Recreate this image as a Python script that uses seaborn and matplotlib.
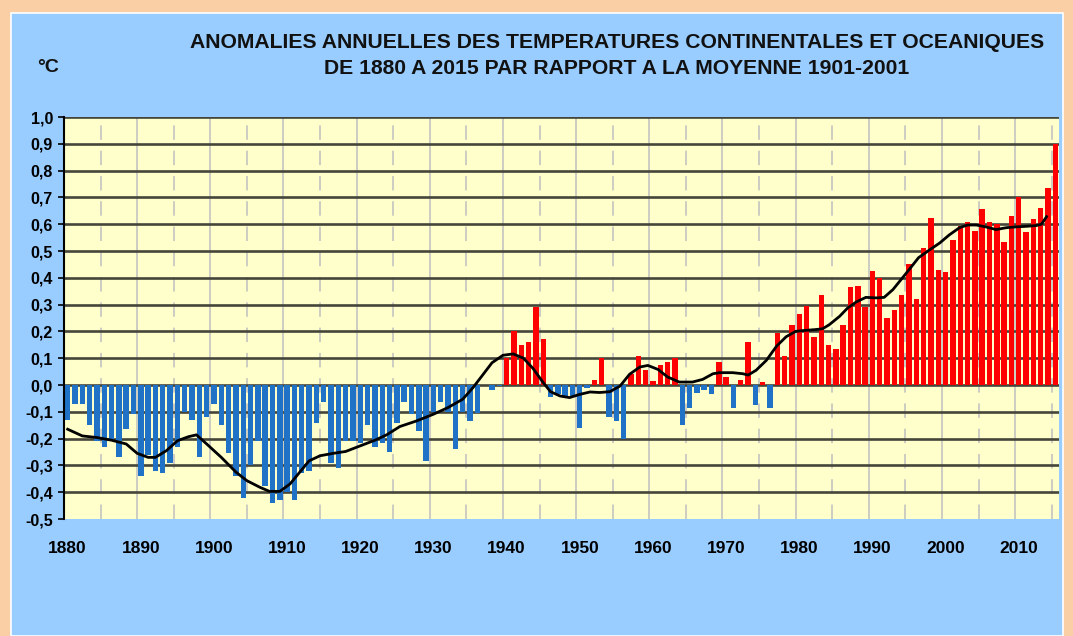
import matplotlib
matplotlib.use("Agg")
import matplotlib.pyplot as plt
import seaborn as sns
import pandas as pd
from matplotlib.patches import Rectangle

# ---------------- data ----------------
years = list(range(1880, 2016))
anomalies = [
    -0.13, -0.07, -0.07, -0.15, -0.21, -0.23, -0.21, -0.27, -0.165, -0.11,   # 1880s
    -0.34, -0.26, -0.32, -0.33, -0.29, -0.23, -0.10, -0.13, -0.27, -0.12,    # 1890s
    -0.07, -0.15, -0.255, -0.34, -0.42, -0.30, -0.21, -0.375, -0.44, -0.43,  # 1900s
    -0.40, -0.43, -0.33, -0.32, -0.14, -0.065, -0.29, -0.31, -0.21, -0.21,   # 1910s
    -0.215, -0.15, -0.23, -0.215, -0.25, -0.14, -0.065, -0.11, -0.17, -0.285,  # 1920s
    -0.10, -0.065, -0.10, -0.24, -0.10, -0.135, -0.105, 0.0, -0.02, -0.005,  # 1930s
    0.10, 0.20, 0.15, 0.16, 0.29, 0.17, -0.045, -0.035, -0.04, -0.04,        # 1940s
    -0.16, -0.01, 0.02, 0.10, -0.12, -0.135, -0.20, 0.04, 0.11, 0.055,       # 1950s
    0.015, 0.075, 0.085, 0.10, -0.15, -0.085, -0.03, -0.02, -0.035, 0.085,   # 1960s
    0.03, -0.085, 0.02, 0.16, -0.075, 0.01, -0.085, 0.195, 0.11, 0.225,      # 1970s
    0.265, 0.295, 0.18, 0.335, 0.15, 0.135, 0.225, 0.365, 0.37, 0.29,        # 1980s
    0.425, 0.40, 0.25, 0.28, 0.335, 0.45, 0.32, 0.51, 0.625, 0.43,           # 1990s
    0.42, 0.54, 0.595, 0.61, 0.575, 0.655, 0.61, 0.60, 0.535, 0.63,          # 2000s
    0.70, 0.57, 0.62, 0.66, 0.735, 0.90,                                     # 2010s
]

# smoothed curve (year, value)
curve_years = [1880, 1882, 1884, 1886, 1888, 1889.5, 1891, 1892, 1893.5, 1895,
               1896.5, 1897.6, 1899, 1901, 1903, 1904.5, 1906.3, 1907.6, 1909, 1910.4,
               1911.7, 1913, 1914.5, 1916.3, 1918, 1920, 1922, 1923.6, 1925.4, 1927.7,
               1930, 1932, 1934, 1935.4, 1936.8, 1938, 1939.5, 1940.9, 1942.3, 1943.6,
               1945, 1946, 1947.3, 1948.6, 1950, 1951.4, 1952.7, 1954.1, 1955.5, 1956.8,
               1958.2, 1959.3, 1960.7, 1962, 1963.6, 1965.4, 1966.8, 1968.2, 1969.1, 1970.9,
               1972.3, 1973, 1974.1, 1975.5, 1976.9, 1978.2, 1979.5, 1980.5, 1982.3, 1983.2,
               1984.1, 1985.5, 1986.6, 1987.8, 1989.1, 1990.5, 1991.6, 1992.8, 1993.9, 1995,
               1996.3, 1997.8, 1999.2, 2000.5, 2001.9, 2003, 2004.2, 2005.5, 2006.9, 2008.3,
               2009.6, 2011, 2012.4, 2013.1, 2013.8]
curve_values = [-0.165, -0.19, -0.196, -0.206, -0.22, -0.255, -0.27, -0.27, -0.245, -0.208,
                -0.193, -0.186, -0.22, -0.27, -0.325, -0.357, -0.382, -0.397, -0.397, -0.369,
                -0.326, -0.283, -0.264, -0.255, -0.248, -0.227, -0.206, -0.186, -0.155, -0.134,
                -0.109, -0.084, -0.053, -0.01, 0.04, 0.083, 0.111, 0.116, 0.10, 0.062,
                0.009, -0.025, -0.041, -0.047, -0.035, -0.026, -0.028, -0.025, -0.004, 0.04,
                0.067, 0.073, 0.058, 0.03, 0.011, 0.011, 0.021, 0.042, 0.046, 0.046,
                0.042, 0.037, 0.055, 0.092, 0.145, 0.18, 0.20, 0.203, 0.207, 0.21,
                0.225, 0.256, 0.287, 0.31, 0.327, 0.325, 0.327, 0.356, 0.393, 0.43,
                0.475, 0.504, 0.53, 0.56, 0.587, 0.597, 0.597, 0.59, 0.58, 0.587,
                0.59, 0.592, 0.595, 0.60, 0.628]

y_ticks = [-0.5, -0.4, -0.3, -0.2, -0.1, 0.0, 0.1, 0.2, 0.3, 0.4, 0.5, 0.6, 0.7, 0.8, 0.9, 1.0]
x_label_years = list(range(1880, 2011, 10))

title_line1 = "ANOMALIES ANNUELLES DES TEMPERATURES CONTINENTALES ET OCEANIQUES"
title_line2 = "DE 1880 A 2015 PAR RAPPORT A LA MOYENNE 1901-2001"
unit_label = "°C"

# ---------------- styling ----------------
FONT = ["Liberation Sans", "DejaVu Sans"]
ORANGE = "#FBCFA6"
PANEL = "#99CCFF"
PLOT_BG = "#FFFFCC"
BLUE = "#1F72C6"
RED = "#FF0000"

W, H = 1073, 636
fig = plt.figure(figsize=(W / 100, H / 100), dpi=100)
fig.patch.set_facecolor(ORANGE)
fig.patches.append(Rectangle((11 / W, 0), (1063 - 11) / W, (H - 13) / H,
                             transform=fig.transFigure, facecolor=PANEL,
                             edgecolor="white", linewidth=1.2, zorder=-5))

ax = fig.add_axes([64 / W, 1 - 519 / H, (1059 - 64) / W, (519 - 117) / H])
ax.set_zorder(2)
ax.set_facecolor(PLOT_BG)

df = pd.DataFrame({"year": years, "anomaly": anomalies})
df["sign"] = ["pos" if v > 0 else "neg" for v in df["anomaly"]]

# grid (behind bars)
for v in y_ticks:
    if v > -0.5:
        ax.axhline(v, color="#45453a", linewidth=1.9, zorder=0.5)
n = len(years)
for yr in range(1885, 2016, 5):
    pos = yr - years[0] - 0.5
    if (yr % 10) == 0:
        ax.axvline(pos, color="#c8c8c0", linewidth=1.3, zorder=0.4)
    else:
        ax.axvline(pos, color="#c8c8c0", linewidth=1.3, linestyle=(0, (8, 6)), zorder=0.4)

sns.barplot(data=df, x="year", y="anomaly", hue="sign",
            palette={"pos": RED, "neg": BLUE}, dodge=False, width=0.74,
            saturation=1, legend=False, ax=ax, zorder=2)

curve_pos = [y - years[0] for y in curve_years]
sns.lineplot(x=curve_pos, y=curve_values, color="black", linewidth=2.0, ax=ax,
             zorder=3, sort=False)

ax.set_xlim(-0.5, n - 0.5)
ax.set_ylim(-0.5, 1.0)
ax.set_yticks(y_ticks)
ax.set_yticklabels([f"{v:.1f}".replace(".", ",") for v in y_ticks],
                   fontfamily=FONT, fontweight="bold", fontsize=11.5)
ax.set_xticks([y - years[0] for y in x_label_years])
ax.set_xticklabels([str(y) for y in x_label_years], fontfamily=FONT,
                   fontweight="bold", fontsize=12.5)
ax.tick_params(axis="x", length=0, pad=16)
ax.tick_params(axis="y", length=4, width=1.2, color="black", pad=4, direction="out")
ax.set_xlabel("")
ax.set_ylabel("")
for s in ["top", "right", "bottom"]:
    ax.spines[s].set_visible(False)
ax.spines["left"].set_color("black")
ax.spines["left"].set_linewidth(1.5)

fig.text(617 / W, 1 - 42 / H, title_line1, ha="center", va="center",
         fontfamily=FONT, fontweight="bold", fontsize=15.2, color="#111111")
fig.text(617 / W, 1 - 68 / H, title_line2, ha="center", va="center",
         fontfamily=FONT, fontweight="bold", fontsize=15.2, color="#111111")
fig.text(48 / W, 1 - 68 / H, unit_label, ha="center", va="center",
         fontfamily=FONT, fontweight="bold", fontsize=14, color="#111111")

fig.savefig("out.png", dpi=100, facecolor=fig.get_facecolor())
